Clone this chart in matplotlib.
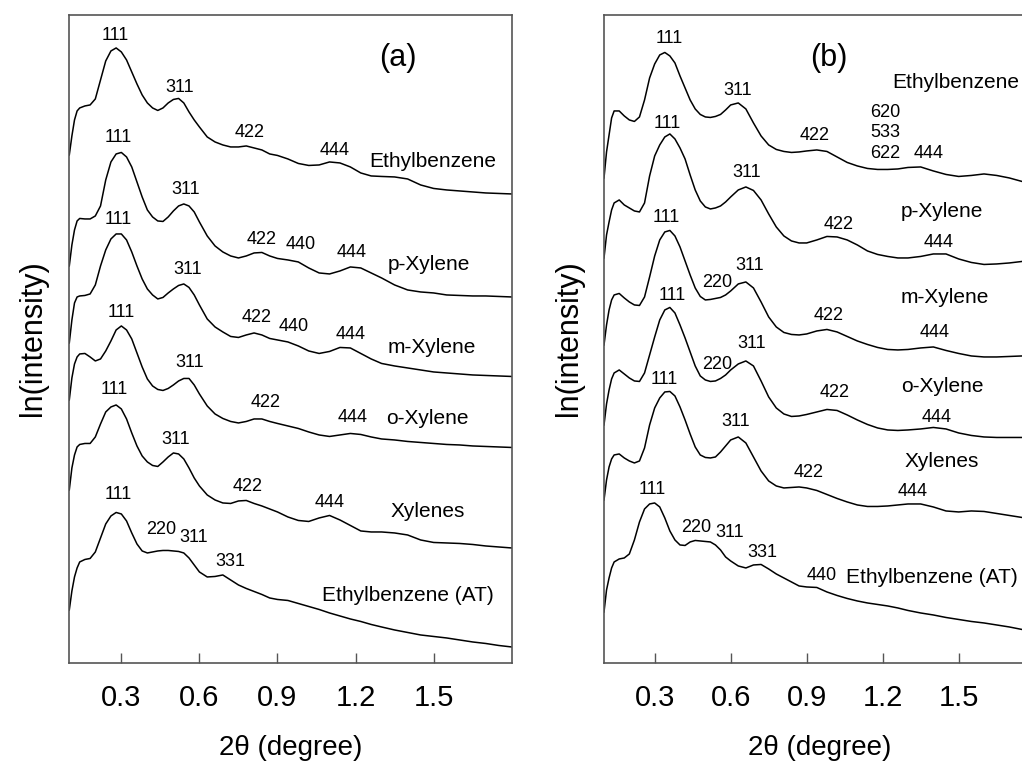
import matplotlib
matplotlib.use('Agg')
import matplotlib.pyplot as plt
import numpy as np

plt.rcParams['font.family'] = ['Liberation Sans', 'DejaVu Sans']

# 2theta sampling points (degree)
two_theta = [0.10, 0.11, 0.12, 0.13, 0.14,
             0.16, 0.18, 0.20, 0.22, 0.24, 0.26, 0.28, 0.30, 0.32, 0.34, 0.36, 0.38, 0.40,
             0.42, 0.44, 0.46, 0.48, 0.50, 0.52, 0.54, 0.56, 0.58, 0.60,
             0.63, 0.66, 0.69, 0.72, 0.75, 0.78, 0.81, 0.84, 0.87, 0.90,
             0.94, 0.98, 1.02, 1.06, 1.10, 1.14, 1.18, 1.22, 1.26, 1.30,
             1.35, 1.40, 1.45, 1.50, 1.55, 1.60, 1.65, 1.70, 1.75, 1.80]

# stacked traces, panel (a); values measured downward from the top of the frame
a_ethylbenzene = [155, 136, 120, 111, 108,
                  106, 105, 99, 80, 61, 51, 48, 52, 60, 72, 84, 95, 103, 108, 110.5, 108, 103, 99.5, 98.5, 103, 112, 120, 127,
                  137, 142, 145, 147, 147, 146, 148, 150, 154, 155.5,
                  159, 163.5, 165.5, 165, 162, 163, 167, 173, 176, 176.5,
                  177, 179, 185, 188.5, 190, 191, 192, 193, 193.5, 194]
a_pxylene = [266, 245, 230, 221, 218.5,
             219, 219, 216, 206, 180, 162, 154, 152.5, 157, 167, 182, 197, 210, 217, 221, 221.5, 217, 211, 206, 204, 206, 212, 222,
             236, 246, 252, 256, 258, 256, 253, 252.5, 256, 258.5,
             260, 262, 268, 273, 274, 271, 267, 268, 273, 278,
             285, 290, 292, 293, 295, 295.5, 296, 296, 296.5, 297]
a_mxylene = [343, 320, 303, 297, 296,
             295.5, 294, 285, 266, 250, 239, 234, 234, 240, 252, 266, 279, 289, 295, 299, 297.5, 293, 289, 285.5, 284, 287.5, 295, 305,
             319, 327, 332, 336.5, 337.5, 335, 333, 335, 338.5, 340,
             342, 346, 351, 353.5, 351.5, 347.5, 348, 353.5, 359, 363.5,
             366, 368, 370, 372, 373, 374, 375, 375.5, 376, 376.5]
a_oxylene = [400, 378, 364, 357, 354,
             353.5, 357, 361, 359, 351, 341, 330, 326, 330, 339, 353, 367, 379, 386, 389.5, 390.5, 388.5, 385, 381, 378.5, 378.5, 385, 394,
             406, 414, 418.5, 421.5, 423, 421.5, 419, 419, 421.5, 423.5,
             426, 428.5, 432, 435, 436.5, 435, 433.5, 434.5, 437, 439,
             440, 441.5, 442.5, 443.5, 444.5, 445, 446, 446.5, 447, 447.5]
a_xylenes = [490, 468, 455, 447, 444.5,
             443.5, 443.5, 437, 424, 412, 407, 405, 409, 419, 433, 446, 456, 462, 465.5, 466.5, 462, 457, 453, 454, 459, 468, 478, 486,
             495, 500, 503, 503.5, 501, 500.5, 503.5, 506, 509, 512,
             517, 520.5, 521.5, 518, 515.5, 520, 525.5, 531, 532, 532,
             533, 535, 540, 542.5, 543, 543.5, 544.5, 546, 547, 548]
a_ethylbenzene_at = [610, 591, 577, 568, 562,
                     559.5, 558.5, 552, 538, 524, 516, 512.5, 514, 521, 533, 544, 551, 553, 552, 551, 550.5, 550.5, 551, 551.5, 553, 558, 565, 572,
                     577, 576.5, 575, 580, 585, 588.5, 591.5, 594.5, 598, 599.5,
                     600.5, 603.5, 606.5, 609.5, 613, 616, 619, 621.5, 624.5, 627,
                     630, 632.5, 635, 636.5, 638, 640, 642, 643.5, 645.5, 647]

# stacked traces, panel (b)
b_ethylbenzene = [178, 152, 135, 118, 111,
                  111, 116, 120, 121.5, 117, 100, 78, 64, 55, 52.5, 56, 63, 76, 88, 100, 109, 114.5, 117, 117.5, 116.5, 114.5, 110, 105,
                  103, 109, 123, 136, 145, 149.5, 151.5, 152.5, 152, 151,
                  150, 151.5, 157, 162.5, 166, 168.5, 169.5, 169.5, 169, 167.5,
                  167, 171, 174.5, 176.5, 175.5, 174, 175.5, 178, 181.5, 184]
b_pxylene = [258, 235, 222, 210, 203,
             200, 205, 208, 211, 212, 203, 176, 156, 145, 137, 134, 139, 148, 159, 175, 190, 201, 207, 209, 208, 206, 202, 197,
             190, 187, 190.5, 200, 214, 227, 236, 241, 243, 243,
             240, 236.5, 237, 240, 245, 251, 254.5, 256.5, 258, 258,
             256.5, 254, 254, 259, 262.5, 264.5, 264, 263, 261.5, 260]
b_mxylene = [345, 325, 310, 300, 295,
             293.5, 298, 302, 305, 305.5, 297, 277, 256, 240, 232, 230.5, 236, 247, 261, 275, 288, 296.5, 300, 299.5, 298.5, 297.5, 295, 291,
             284, 282, 288, 302, 317, 327, 332.5, 334.5, 335, 334,
             331, 329.5, 332, 336.5, 341, 344.5, 347.5, 349.5, 350, 349.5,
             348, 347, 350.5, 353.5, 356, 357, 357, 356.5, 356, 356]
b_oxylene = [425, 404, 390, 379, 373,
             370, 374, 378, 381, 381.5, 373, 355, 337, 320, 310, 307.5, 313, 325, 338, 352, 366, 376, 380, 381.5, 381, 378.5, 375, 370,
             364, 361, 366, 381, 397, 408, 414, 416.5, 416, 414.5,
             412, 409.5, 410.5, 415, 420, 424.5, 428, 430, 430.5, 430,
             429, 427.5, 429, 433, 435.5, 437, 437.5, 437.5, 437.5, 437.5]
b_xylenes = [500, 480, 467, 459, 455,
             454, 458, 461, 463, 461, 448, 425, 408, 398, 392, 391.5, 396, 407, 420, 434, 447, 455, 457.5, 458, 457, 452, 446, 440,
             437, 443, 457, 471, 481, 486, 488, 487.5, 487, 488,
             490.5, 494.5, 498.5, 502, 505, 506.5, 506.5, 506, 505, 504,
             504, 507, 511, 512, 511, 511.5, 513.5, 515.5, 517.5, 519]
b_ethylbenzene_at = [612, 590, 578, 568, 562,
                     559, 558, 554, 540, 522, 509, 504, 503, 507, 518, 531, 540, 545, 545.5, 542, 540.5, 541, 541.5, 542, 545, 550, 557, 561,
                     566, 568, 565, 564.5, 569, 574, 578, 582, 586, 587,
                     587.5, 592, 595.5, 598.5, 601, 603, 604.5, 606, 608, 610.5,
                     613, 615, 617.5, 619.5, 621.5, 623, 625, 627, 629.5, 631]

# reflection labels (text, 2theta, level)
a_peaks = [('111', 0.278, 36), ('311', 0.525, 88), ('422', 0.792, 133), ('444', 1.119, 151),
           ('111', 0.288, 138), ('311', 0.548, 190), ('422', 0.840, 240), ('440', 0.988, 245), ('444', 1.183, 253),
           ('111', 0.288, 220), ('311', 0.555, 270), ('422', 0.821, 318), ('440', 0.962, 327), ('444', 1.181, 335),
           ('111', 0.301, 313), ('311', 0.561, 363), ('422', 0.853, 403), ('444', 1.187, 418),
           ('111', 0.274, 390), ('311', 0.509, 440), ('422', 0.785, 487), ('444', 1.101, 503),
           ('111', 0.288, 495), ('220', 0.455, 530), ('311', 0.578, 538), ('331', 0.718, 562)]
a_samples = [('Ethylbenzene', 1.496, 162), ('p-Xylene', 1.483, 265), ('m-Xylene', 1.492, 348),
             ('o-Xylene', 1.477, 419), ('Xylenes', 1.477, 512), ('Ethylbenzene (AT)', 1.400, 596)]

b_peaks = [('111', 0.358, 39), ('311', 0.629, 91), ('422', 0.932, 136), ('620', 1.211, 113),
           ('533', 1.211, 133), ('622', 1.211, 154), ('444', 1.382, 154),
           ('111', 0.350, 124), ('311', 0.665, 173), ('422', 1.026, 225), ('444', 1.419, 243),
           ('111', 0.345, 218), ('220', 0.546, 283), ('311', 0.675, 266), ('422', 0.985, 316), ('444', 1.405, 333),
           ('111', 0.371, 296), ('220', 0.546, 365), ('311', 0.682, 344), ('422', 1.011, 393), ('444', 1.411, 418),
           ('111', 0.336, 380), ('311', 0.619, 422), ('422', 0.908, 473), ('444', 1.319, 492),
           ('111', 0.292, 490), ('220', 0.463, 528), ('311', 0.596, 533), ('331', 0.726, 553), ('440', 0.961, 576)]
b_samples = [('Ethylbenzene', 1.487, 83), ('p-Xylene', 1.435, 212), ('m-Xylene', 1.445, 298),
             ('o-Xylene', 1.435, 387), ('Xylenes', 1.435, 462), ('Ethylbenzene (AT)', 1.395, 578)]

xticks = [0.3, 0.6, 0.9, 1.2, 1.5]

fig = plt.figure(figsize=(10.22, 7.63), dpi=100)
ax_a = fig.add_axes([0.0678, 0.1311, 0.4329, 0.8497])
ax_b = fig.add_axes([0.5910, 0.1311, 0.4214, 0.8497])

panels = [
    (ax_a, [a_ethylbenzene, a_pxylene, a_mxylene, a_oxylene, a_xylenes, a_ethylbenzene_at], a_peaks, a_samples, '(a)', 1.361),
    (ax_b, [b_ethylbenzene, b_pxylene, b_mxylene, b_oxylene, b_xylenes, b_ethylbenzene_at], b_peaks, b_samples, '(b)', 0.987),
]

for ax, traces, peaks, samples, tag, tag_x in panels:
    for tr in traces:
        ax.plot(two_theta, tr, color='black', lw=1.1)
    for txt, x, y in peaks:
        ax.text(x, y, txt, ha='center', va='center', fontsize=13)
    for txt, x, y in samples:
        ax.text(x, y, txt, ha='center', va='center', fontsize=15)
    ax.text(tag_x, 58, tag, ha='center', va='center', fontsize=22)

    ax.set_xlim(0.1, 1.8)
    ax.set_ylim(663, 14.7)
    ax.set_xticks(xticks)
    ax.set_xticklabels([str(t) for t in xticks])
    ax.set_yticks([])
    ax.tick_params(axis='x', direction='in', length=7, width=1, color='#555555',
                   labelsize=21, pad=15)
    for s in ax.spines.values():
        s.set_color('#555555')
        s.set_linewidth(1.2)
    ax.set_xlabel('2\u03b8 (degree)', fontsize=20, labelpad=17)

fig.text(33 / 1022, 1 - 338 / 763, 'ln(intensity)', rotation=90, ha='center', va='center', fontsize=22)
fig.text(569 / 1022, 1 - 338 / 763, 'ln(intensity)', rotation=90, ha='center', va='center', fontsize=22)

plt.savefig('out.png', dpi=100)
